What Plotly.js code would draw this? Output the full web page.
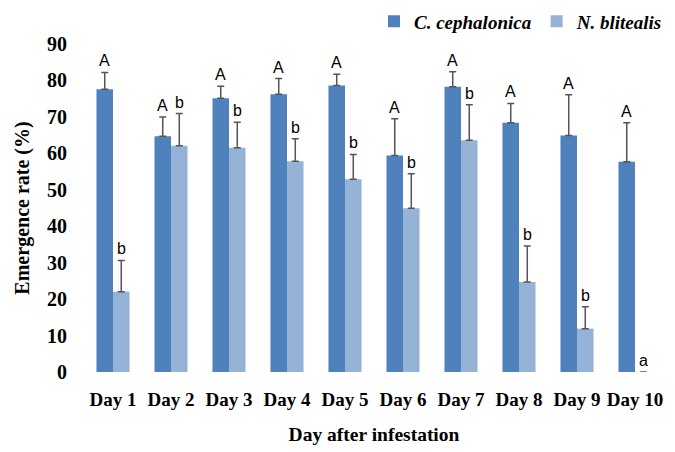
<!DOCTYPE html>
<html>
<head>
<meta charset="utf-8">
<script src="https://cdn.plot.ly/plotly-3.0.1.min.js"></script>
<style>html,body{margin:0;padding:0;background:#fff;}#chart{width:675px;height:452px;}</style>
</head>
<body>
<div id="chart"></div>
<script>
const days = ["Day 1","Day 2","Day 3","Day 4","Day 5","Day 6","Day 7","Day 8","Day 9","Day 10"];
const cephalonica = [77.6, 64.7, 75.1, 76.2, 78.6, 59.4, 78.3, 68.4, 64.9, 57.7];
const cephalonicaErr = [4.6, 5.3, 3.3, 4.3, 3.1, 10.1, 4.1, 5.3, 11.2, 10.7];
const blitealis = [22.0, 62.1, 61.5, 57.8, 52.9, 44.9, 63.6, 24.7, 11.9, 0];
const blitealisErr = [8.6, 8.8, 7.0, 6.2, 6.8, 9.5, 9.7, 9.9, 6.0, 0];
const cephalonicaLetters = ["A","A","A","A","A","A","A","A","A","A"];
const blitealisLetters = ["b","b","b","b","b","b","b","b","b","a"];

function errOf(arr){
  return {type:'data', symmetric:false, array:arr, arrayminus:arr.map(()=>0),
    visible:true, color:'#555555', thickness:1.5, width:3.5};
}

const traces = [
  {type:'bar', name:'<i>C. cephalonica</i>', x:days, y:cephalonica,
   error_y:errOf(cephalonicaErr), marker:{color:'#4f81bd'}},
  {type:'bar', name:'<i>N. blitealis</i>', x:days, y:blitealis,
   error_y:errOf(blitealisErr), marker:{color:'#95b3d7'}}
];

const letterFont = {family:'Liberation Sans, Arial, sans-serif', size:16, color:'#000'};
const annotations = [];
days.forEach((d,i)=>{
  annotations.push({x:d, y:cephalonica[i]+cephalonicaErr[i], text:cephalonicaLetters[i],
    xref:'x', yref:'y', showarrow:false, yanchor:'bottom', xshift:-8.5, yshift:1, font:letterFont});
  annotations.push({x:d, y:blitealis[i]+blitealisErr[i], text:blitealisLetters[i],
    xref:'x', yref:'y', showarrow:false, yanchor:'bottom', xshift:8.5, yshift:1, font:letterFont});
});

const layout = {
  width:675, height:452,
  margin:{l:84, r:11, t:44, b:80, autoexpand:false},
  paper_bgcolor:'#fff', plot_bgcolor:'#fff',
  barmode:'group', bargap:0.43, bargroupgap:0,
  font:{family:'Liberation Serif, Times New Roman, serif', color:'#000'},
  showlegend:true,
  legend:{orientation:'h', x:0.5, xanchor:'left', y:1.127, yanchor:'top',
    font:{family:'Liberation Serif, serif', size:19, color:'#000', weight:'bold'},
    itemwidth:30, tracegroupgap:0, bgcolor:'rgba(0,0,0,0)'},
  xaxis:{type:'category', showline:false, showgrid:false, zeroline:false, ticks:'',
    tickangle:0, automargin:false, ticklabelstandoff:14,
    tickfont:{family:'Liberation Serif, serif', size:19, color:'#000', weight:'bold'},
    title:{text:'<b>Day after infestation</b>', standoff:18,
      font:{family:'Liberation Serif, serif', size:19.5, color:'#000'}}},
  yaxis:{range:[0,90], dtick:10, showline:false, showgrid:false, zeroline:false, ticks:'',
    automargin:false, ticklabelstandoff:16,
    tickfont:{family:'Liberation Serif, serif', size:20, color:'#000', weight:'bold'},
    title:{text:'<b>Emergence rate (%)</b>', standoff:12,
      font:{family:'Liberation Serif, serif', size:20, color:'#000'}}},
  annotations:annotations
};

Plotly.newPlot('chart', traces, layout, {displayModeBar:false, staticPlot:true});
</script>
</body>
</html>
